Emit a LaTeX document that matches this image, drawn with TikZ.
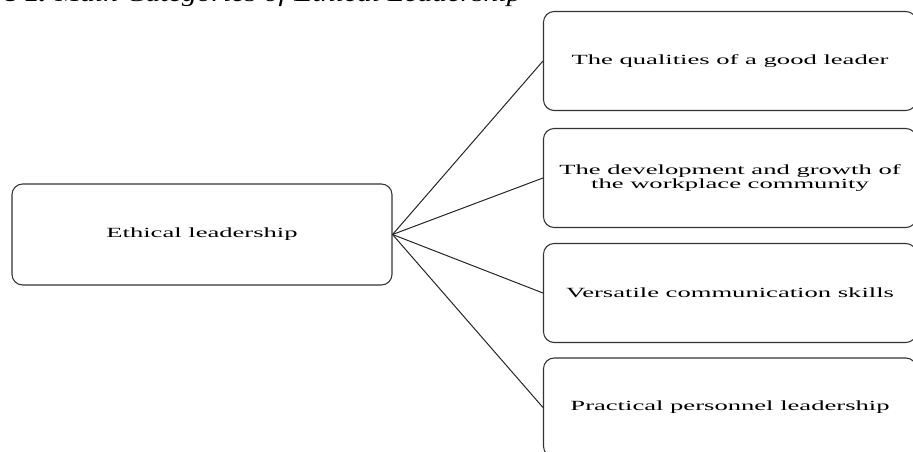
\documentclass[tikz,border=0pt]{standalone}
\usepackage{fontspec}
\setmainfont{Liberation Serif}[FakeStretch=1.9]
\newfontfamily\captionfont{Liberation Serif}[FakeStretch=1.24]
\tikzset{
  catbox/.style={draw=black!80, line width=0.8pt, rounded corners=8pt, align=center, font=\fontsize{10.5}{10.5}\selectfont},
  spoke/.style={draw=black!85, line width=0.75pt}
}
\begin{document}
\begin{tikzpicture}[x=0.75pt,y=0.75pt,yscale=-1,xscale=1]
\useasboundingbox (0,0) rectangle (913,452);
\clip (0,0) rectangle (913,452);

% Caption (cut at the top edge)
\node [anchor=base east, inner sep=0pt, font=\captionfont\fontsize{18}{19}\selectfont] (caption) at (522,2) {\textbf{Figure 1.} \textit{Main Categories of Ethical Leadership}};

% Root box
\node [catbox, minimum width=380*0.75pt, minimum height=101*0.75pt] (ethical) at (202,234.5) {Ethical leadership};

% Category boxes
\node [catbox, minimum width=373*0.75pt, minimum height=99*0.75pt] (qualities) at (730,61) {The qualities of a good leader};
\node [catbox, minimum width=373*0.75pt, minimum height=99*0.75pt] (growth) at (730,178) {The development and growth of\\the workplace community};
\node [catbox, minimum width=373*0.75pt, minimum height=99*0.75pt] (skills) at (730,293) {Versatile communication skills};
\node [catbox, minimum width=373*0.75pt, minimum height=99*0.75pt] (personnel) at (730,407.5) {Practical personnel leadership};

% Spokes
\draw [spoke] (ethical.east) -- (qualities.west);
\draw [spoke] (ethical.east) -- (growth.west);
\draw [spoke] (ethical.east) -- (skills.west);
\draw [spoke] (ethical.east) -- (personnel.west);
\end{tikzpicture}
\end{document}
